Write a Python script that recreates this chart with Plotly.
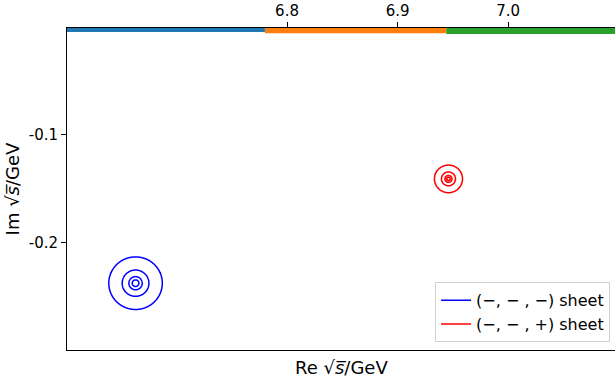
import numpy as np
import plotly.graph_objects as go

# ---- data ----
sheet_names = ["(\u2212, \u2212 , \u2212) sheet", "(\u2212, \u2212 , +) sheet"]
sheet_colors = ["#0000ff", "#ff0000"]
pole_re = [6.663, 6.946]
pole_im = [-0.237, -0.141]
# radius of the outermost contour ring (GeV); rings halve inward
outer_radius = [0.0242, 0.0127]
n_rings = 4

# threshold segments along the top edge
threshold_edges = [6.60, 6.780, 6.944, 7.10]
threshold_colors = ["#1f77b4", "#ff7f0e", "#2ca02c"]
threshold_widths = [12.6, 15.2, 16.6]

xtick_vals = [6.8, 6.9, 7.0]
xtick_text = ["6.8", "6.9", "7.0"]
ytick_vals = [-0.1, -0.2]
ytick_text = ["-0.1", "-0.2"]

x_range = [6.601, 7.0966]
y_range = [-0.2985, -0.0021]

FONT = "DejaVu Sans"

fig = go.Figure()

# contour rings around each pole
for name, col, xr, yi, r0 in zip(sheet_names, sheet_colors, pole_re, pole_im, outer_radius):
    half = r0 * 1.3
    gx = np.linspace(xr - half, xr + half, 361)
    gy = np.linspace(yi - half, yi + half, 361)
    X, Y = np.meshgrid(gx, gy)
    Z = np.log2(np.hypot(X - xr, Y - yi) + 1e-12)
    top = np.log2(r0)
    fig.add_trace(go.Contour(
        x=gx, y=gy, z=Z,
        contours=dict(start=top - (n_rings - 1), end=top, size=1, coloring="lines"),
        colorscale=[[0, col], [1, col]], showscale=False,
        line=dict(width=1.5), hoverinfo="skip", showlegend=False,
    ))
    fig.add_trace(go.Scatter(
        x=[None], y=[None], mode="lines", name=name,
        line=dict(color=col, width=1.5),
    ))

# threshold bars
for i in range(3):
    fig.add_trace(go.Scatter(
        x=[threshold_edges[i], threshold_edges[i + 1]], y=[0.0, 0.0],
        mode="lines", line=dict(color=threshold_colors[i], width=threshold_widths[i]),
        showlegend=False, hoverinfo="skip",
    ))

fig.update_layout(
    width=615, height=381,
    margin=dict(l=67, r=0, t=28, b=31),
    paper_bgcolor="white", plot_bgcolor="white",
    font=dict(family=FONT, size=15, color="black"),
    showlegend=True,
    legend=dict(
        x=0.991, y=0.024, xanchor="right", yanchor="bottom",
        bordercolor="#d0d0d0", borderwidth=1, bgcolor="rgba(255,255,255,0.8)",
        font=dict(family=FONT, size=16), tracegroupgap=0,
    ),
    xaxis=dict(
        range=x_range, side="top", showgrid=False, zeroline=False,
        showline=True, linecolor="black", linewidth=1, mirror=True,
        tickmode="array", tickvals=xtick_vals, ticktext=xtick_text,
        ticks="outside", ticklen=5, tickcolor="black",
        tickfont=dict(family=FONT, size=15),
    ),
    yaxis=dict(
        range=y_range, showgrid=False, zeroline=False,
        showline=True, linecolor="black", linewidth=1, mirror=False,
        tickmode="array", tickvals=ytick_vals, ticktext=ytick_text,
        ticks="outside", ticklen=5, tickcolor="black",
        tickfont=dict(family=FONT, size=15),
        title=dict(text="Im \u221a<i>s\u0305</i>/GeV", font=dict(family=FONT, size=18), standoff=4),
    ),
    annotations=[dict(
        text="Re \u221a<i>s\u0305</i>/GeV", xref="paper", yref="paper",
        x=0.5, y=0, xanchor="center", yanchor="top", yshift=-5,
        showarrow=False, font=dict(family=FONT, size=18),
    )],
)

fig.write_html(
    "out.html",
    config={"displayModeBar": False},
    post_script="document.body.style.margin='0';document.body.style.overflow='hidden';",
)
